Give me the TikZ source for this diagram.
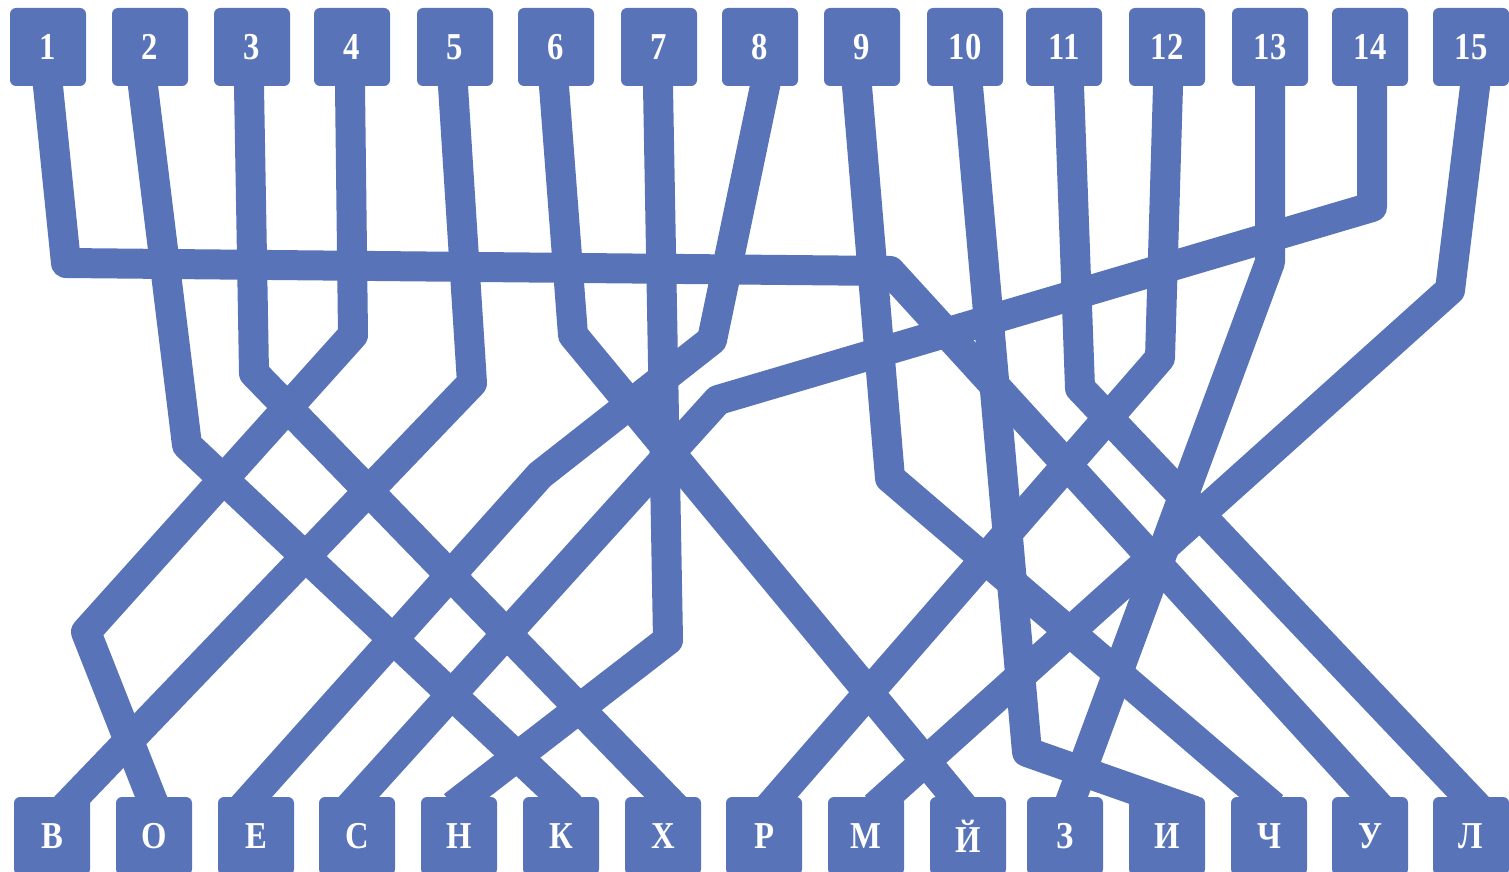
\documentclass[tikz,border=0pt]{standalone}
\usepackage{fontspec}
\setmainfont{Liberation Serif}
\newfontfamily\lblfont{Liberation Serif}[FakeStretch=0.86]
\definecolor{tangle}{RGB}{88,115,183}
\pgfdeclarelayer{bg}
\pgfsetlayers{bg,main}
\begin{document}
\begin{tikzpicture}[x=1pt,y=-1pt,
  box/.style={fill=tangle, rounded corners=6pt, minimum width=76pt, minimum height=78pt,
    inner sep=0pt, text=white, font=\lblfont\bfseries\fontsize{38}{38}\selectfont},
  wire/.style={draw=tangle, line width=30pt, line cap=rect, line join=round}]
\useasboundingbox (0,0) rectangle (1509,872);
% top boxes
\foreach \x/\n [count=\i] in {48/1,150/2,252/3,352/4,455/5,556/6,659/7,760/8,862/9,965/10,1064/11,1167/12,1270/13,1370/14,1471/15}
  \node[box] (t\i) at (\x,47) {\n};
% bottom boxes
\foreach \x/\n [count=\i] in {52/В,154/О,256/Е,357/С,459/Н,561/К,663/Х,764/Р,866/М,968/Й,1065/З,1167/И,1269/Ч,1370/У,1471/Л}
  \node[box] (b\i) at (\x,836) {\n};
\begin{pgfonlayer}{bg}
\draw[wire] (t1.south) -- (66,263) -- (890,271) -- (b14.north);
\draw[wire] ([xshift=-7pt]t2.south) -- (187,445) -- ([xshift=-1pt]b6.north);
\draw[wire] ([xshift=-3pt]t3.south) -- (254,373) -- ([xshift=2pt]b7.north);
\draw[wire] ([xshift=-2pt]t4.south) -- (353,335) -- (86,632) -- ([xshift=-3pt]b2.north);
\draw[wire] ([xshift=-2pt]t5.south) -- (472,383) -- ([xshift=23pt]b1.north);
\draw[wire] ([xshift=-2pt]t6.south) -- (573,335) -- ([xshift=-13pt]b10.north);
\draw[wire] ([xshift=-1pt]t7.south) -- (668,640) -- ([xshift=6pt]b5.north);
\draw[wire] ([xshift=5pt]t8.south) -- (712,340) -- (540,475) -- ([xshift=-4pt]b3.north);
\draw[wire] ([xshift=-5pt]t9.south) -- (890,478) -- ([xshift=-7pt]b13.north);
\draw[wire] ([xshift=3pt]t10.south) -- (1027,752) -- ([xshift=13pt,yshift=-9pt]b12.north);
\draw[wire] ([xshift=5pt]t11.south) -- (1080,388) -- ([xshift=-3pt]b15.north);
\draw[wire] ([xshift=1pt]t12.south) -- (1160,358) -- ([xshift=14pt]b8.north);
\draw[wire] (t13.south) -- (1270,262) -- ([xshift=7pt]b11.north);
\draw[wire] ([xshift=2pt]t14.south) -- (1372,207) -- (718,400) -- ([xshift=2pt]b4.north);
\draw[wire] ([xshift=4pt]t15.south) -- (1450,290) -- ([xshift=20pt]b9.north);
\end{pgfonlayer}
\end{tikzpicture}
\end{document}
